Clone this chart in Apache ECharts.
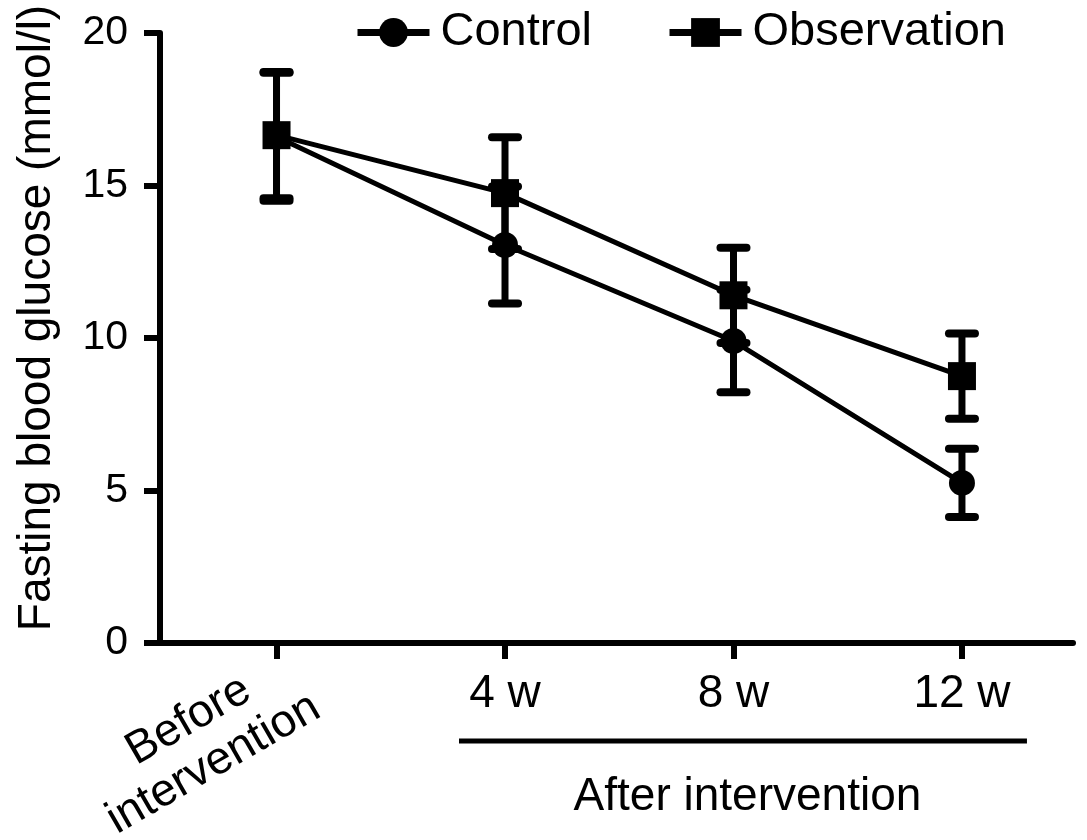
<!DOCTYPE html>
<html><head><meta charset="utf-8">
<script src="https://cdn.jsdelivr.net/npm/echarts@6/dist/echarts.min.js"></script>
<style>html,body{margin:0;padding:0;background:#fff}#c{width:1087px;height:840px}</style>
</head><body><div id="c"></div>
<script>
const categories = ['Before intervention', '4 w', '8 w', '12 w'];
const groupLabel = 'After intervention';
const yAxisTitle = 'Fasting blood glucose (mmol/l)';
const seriesNames = ['Control', 'Observation'];
const controlMean = [16.6, 13.05, 9.9, 5.25];
const controlSD = [2.1, 1.92, 1.68, 1.12];
const observationMean = [16.65, 14.75, 11.4, 8.75];
const observationSD = [2.07, 1.83, 1.56, 1.4];

const FONT = '"Liberation Sans", Arial, Helvetica, sans-serif';
const BLACK = '#000';
const X_MIN = -0.51, X_MAX = 3.486;

const chart = echarts.init(document.getElementById('c'));

function points(mean) { return mean.map((m, i) => [i, m]); }
function errData(mean, sd) { return mean.map((m, i) => [i, m - sd[i], m + sd[i]]); }
function errSeries(name, mean, sd) {
  return {
    type: 'custom', name: name, xAxisIndex: 0, yAxisIndex: 0, silent: true, z: 2,
    data: errData(mean, sd),
    renderItem: function (params, api) {
      const x = api.value(0);
      const lo = api.coord([x, api.value(1)]);
      const hi = api.coord([x, api.value(2)]);
      const cw = 13;
      const cap = { stroke: BLACK, lineWidth: 8, lineCap: 'round' };
      return { type: 'group', children: [
        { type: 'line', shape: { x1: lo[0], y1: lo[1], x2: hi[0], y2: hi[1] }, style: { stroke: BLACK, lineWidth: 7 } },
        { type: 'line', shape: { x1: hi[0] - cw, y1: hi[1], x2: hi[0] + cw, y2: hi[1] }, style: cap },
        { type: 'line', shape: { x1: lo[0] - cw, y1: lo[1], x2: lo[0] + cw, y2: lo[1] }, style: cap }
      ]};
    }
  };
}
function lineSeries(name, mean, symbol, size) {
  return {
    type: 'line', name: name, xAxisIndex: 0, yAxisIndex: 0, z: 3,
    data: points(mean), symbol: symbol, symbolSize: size, showSymbol: true,
    lineStyle: { color: BLACK, width: 5 }, itemStyle: { color: BLACK, borderWidth: 0 },
    emphasis: { disabled: true }, animation: false
  };
}

const option = {
  animation: false,
  backgroundColor: '#fff',
  grid: { left: 160, right: 14, top: 33, bottom: 197, containLabel: false, outerBoundsMode: 'none' },
  legend: {
    data: seriesNames, left: 349, top: 4, itemWidth: 72, itemHeight: 36, itemGap: 74,
    lineStyle: { width: 7 },
    textStyle: { fontSize: 47, color: BLACK, fontFamily: FONT, padding: [0, 0, 0, 6] },
    selectedMode: false
  },
  xAxis: [
    {
      type: 'value', min: X_MIN, max: X_MAX, position: 'bottom',
      axisLine: { show: true, onZero: false, lineStyle: { color: BLACK, width: 6 } },
      axisTick: { show: true, customValues: [0, 1, 2, 3], length: 16, lineStyle: { color: BLACK, width: 6 } },
      splitLine: { show: false },
      axisLabel: {
        customValues: [0], rotate: 30, align: 'center', verticalAlign: 'middle', margin: 10,
        padding: [79, 220, 0, 0],
        formatter: function (v) {
          const parts = categories[Math.round(v)].split(' ');
          return parts.map(p => '{a|' + p + '}').join('\n');
        },
        rich: { a: { fontSize: 46, fontFamily: FONT, color: BLACK, align: 'center', lineHeight: 50 } }
      }
    },
    {
      type: 'value', min: X_MIN, max: X_MAX, position: 'bottom',
      axisLine: { show: false, onZero: false }, axisTick: { show: false }, splitLine: { show: false },
      axisLabel: {
        customValues: [1, 2, 3], margin: 28, fontSize: 46, fontFamily: FONT, color: BLACK,
        formatter: function (v) { return categories[Math.round(v)]; }
      }
    }
  ],
  yAxis: {
    type: 'value', min: 0, max: 20, interval: 5,
    name: yAxisTitle, nameLocation: 'middle', nameGap: 100,
    nameTextStyle: { fontSize: 46, fontFamily: FONT, color: BLACK, padding: [0, 0, 0, 40] },
    axisLine: { show: true, onZero: false, lineStyle: { color: BLACK, width: 6 } },
    axisTick: { show: true, length: 16, lineStyle: { color: BLACK, width: 6 } },
    splitLine: { show: false },
    axisLabel: { fontSize: 41, fontFamily: FONT, color: BLACK, margin: 32 }
  },
  series: [
    errSeries('Control SD', controlMean, controlSD),
    errSeries('Observation SD', observationMean, observationSD),
    lineSeries(seriesNames[0], controlMean, 'circle', 26),
    lineSeries(seriesNames[1], observationMean, 'rect', 28)
  ]
};
chart.setOption(option);

const xa = chart.convertToPixel({ xAxisIndex: 0 }, 1);
const xb = chart.convertToPixel({ xAxisIndex: 0 }, 3);
const y0 = chart.convertToPixel({ yAxisIndex: 0 }, 0);
chart.setOption({
  graphic: [
    { type: 'line', shape: { x1: xa - 46, y1: y0 + 98, x2: xb + 65, y2: y0 + 98 }, style: { stroke: BLACK, lineWidth: 5 } },
    { type: 'text', x: (xa + xb) / 2 + 14, y: y0 + 154, style: { text: groupLabel, fontSize: 46, fontFamily: FONT, fill: BLACK, align: 'center', verticalAlign: 'middle' } }
  ]
});
</script></body></html>
